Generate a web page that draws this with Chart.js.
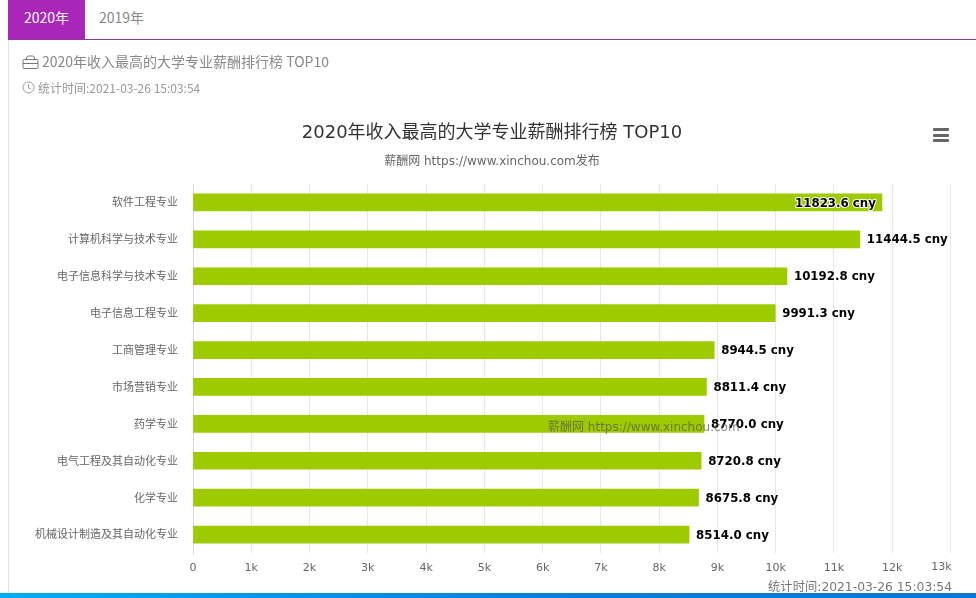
<!DOCTYPE html>
<html>
<head>
<meta charset="utf-8">
<title>2020年收入最高的大学专业薪酬排行榜 TOP10</title>
<script src="https://cdn.jsdelivr.net/npm/chart.js@4/dist/chart.umd.min.js"></script>
<style>
    html, body { margin: 0; padding: 0; background: #fff; overflow: hidden; }
    body { width: 976px; height: 598px; position: relative; font-family: "Noto Sans CJK SC", "Noto Sans", sans-serif; }
    .tabs { position: absolute; left: 8px; right: 0; top: 0; height: 39px; border-bottom: 1px solid #8a3a98; }
    .tab { position: absolute; top: 0; height: 39px; line-height: 34px; font-size: 14px; text-align: center; color: #888; }
    .tab.on { left: 0; width: 77px; background: #a826b8; color: #fff; }
    .tab.off { left: 77px; width: 73px; }
    .card-edge { position: absolute; left: 8px; top: 40px; bottom: 5px; width: 1px; background: #e2e2e2; }
    .heading { position: absolute; left: 42px; top: 50px; font-size: 14px; line-height: 22px; color: #888; white-space: nowrap; }
    .stamp { position: absolute; left: 38px; top: 79px; font-size: 12px; line-height: 17px; color: #999; white-space: nowrap; }
    .icon { position: absolute; }
    .menu { position: absolute; left: 933px; top: 128px; width: 16px; height: 14px; }
    .menu i { display: block; height: 3px; margin-bottom: 2.5px; background: #666; border-radius: 1px; }
    .bottom-bar { position: absolute; left: 0; right: 0; top: 593px; height: 5px; background: linear-gradient(to right, #00aeef, #0a7ed6 60%, #0b78d2); }
    canvas { position: absolute; left: 9px; top: 40px; }
</style>
</head>
<body>
<div class="tabs">
    <div class="tab on">2020年</div>
    <div class="tab off">2019年</div>
</div>
<canvas id="salary-chart" width="967" height="558"></canvas>
<div class="card-edge"></div>
<svg class="icon" style="left:22px;top:55px" width="17" height="14" viewBox="0 0 17 14" fill="none" stroke="#777" stroke-width="1">
    <rect x="1" y="4.5" width="15" height="9" rx="1"/><path d="M1 8.5h15M4.5 4.5V3a2 2 0 0 1 2-2h4a2 2 0 0 1 2 2v1.5"/>
</svg>
<div class="heading">2020年收入最高的大学专业薪酬排行榜 TOP10</div>
<svg class="icon" style="left:22px;top:81px" width="13" height="13" viewBox="0 0 13 13" fill="none" stroke="#999" stroke-width="1">
    <circle cx="6.5" cy="6.5" r="5.5"/><path d="M6.5 3v3.8l2.5 1.4"/>
</svg>
<div class="stamp">统计时间:2021-03-26 15:03:54</div>
<div class="menu"><i></i><i></i><i></i></div>
<div class="bottom-bar"></div>
<script>
const majors = [
    "软件工程专业",
    "计算机科学与技术专业",
    "电子信息科学与技术专业",
    "电子信息工程专业",
    "工商管理专业",
    "市场营销专业",
    "药学专业",
    "电气工程及其自动化专业",
    "化学专业",
    "机械设计制造及其自动化专业",
];
const salaries = [11823.6, 11444.5, 10192.8, 9991.3, 8944.5, 8811.4, 8770.0, 8720.8, 8675.8, 8514.0];
const chartTitle = "2020年收入最高的大学专业薪酬排行榜 TOP10";
const chartSubtitle = "薪酬网 https://www.xinchou.com发布";
const watermark = "薪酬网 https://www.xinchou.com";
const credit = "统计时间:2021-03-26 15:03:54";
const axisMax = 13000;

const cjkFont = '"DejaVu Sans", "Noto Sans CJK SC", sans-serif';

// value labels, last axis label and the two overlay texts
const extras = {
    id: "extras",
    afterDraw(chart) {
        const ctx = chart.ctx;
        const xScale = chart.scales.x;
        ctx.save();
        ctx.textBaseline = "middle";
        ctx.font = 'bold 11.8px "DejaVu Sans", sans-serif';
        ctx.lineJoin = "round";
        chart.getDatasetMeta(0).data.forEach((bar, i) => {
            const text = salaries[i].toFixed(1) + " cny";
            const inside = i === 0;
            const x = inside ? bar.x - 6 : bar.x + 7;
            const y = bar.y + 1;
            ctx.textAlign = inside ? "right" : "left";
            ctx.lineWidth = 2;
            ctx.strokeStyle = "#fff";
            ctx.strokeText(text, x, y);
            ctx.fillStyle = "#000";
            ctx.fillText(text, x, y);
        });

        ctx.font = "11px " + cjkFont;
        ctx.fillStyle = "#666";
        ctx.textAlign = "right";
        ctx.fillText("13k", xScale.getPixelForValue(axisMax) + 1, 527.5);

        ctx.font = "12px " + cjkFont;
        ctx.fillStyle = "rgba(90, 90, 90, 0.75)";
        ctx.textAlign = "left";
        ctx.fillText(watermark, 539, 388);

        ctx.font = "12.3px " + cjkFont;
        ctx.fillStyle = "#777";
        ctx.textAlign = "right";
        ctx.fillText(credit, 943, 548);
        ctx.restore();
    },
};

new Chart(document.getElementById("salary-chart").getContext("2d"), {
    type: "bar",
    data: {
        labels: majors,
        datasets: [{ data: salaries, backgroundColor: "#9ecb00", barThickness: 17 }],
    },
    options: {
        indexAxis: "y",
        responsive: false,
        animation: false,
        layout: { padding: { right: 25.5, top: 0, bottom: 0, left: 24.5 } },
        plugins: {
            legend: { display: false },
            tooltip: { enabled: false },
            title: {
                display: true,
                text: chartTitle,
                color: "#333",
                font: { family: cjkFont, size: 18, weight: "normal" },
                padding: { top: 83, bottom: 10 },
            },
            subtitle: {
                display: true,
                text: chartSubtitle,
                color: "#666",
                font: { family: cjkFont, size: 12, weight: "normal" },
                padding: { top: 0, bottom: 15 },
            },
        },
        scales: {
            x: {
                min: 0,
                max: axisMax,
                afterFit(scale) { scale.height = 45; },
                border: { display: false },
                grid: {
                    color: (c) => (c.tick.value === 0 ? "#ccd6eb" : "#e6e6e6"),
                    drawTicks: false,
                },
                ticks: {
                    stepSize: 1000,
                    maxRotation: 0,
                    padding: 9,
                    color: "#666",
                    font: { family: cjkFont, size: 11 },
                    callback: (v) => {
                        if (v === axisMax) return "";
                        return v === 0 ? "0" : v / 1000 + "k";
                    },
                },
            },
            y: {
                afterFit(scale) { scale.width = 159.5; },
                border: { color: "#ccd6eb" },
                grid: { display: false },
                ticks: {
                    padding: 7,
                    labelOffset: 1,
                    color: "#666",
                    font: { family: cjkFont, size: 11 },
                },
            },
        },
    },
    plugins: [extras],
});
</script>
</body>
</html>
